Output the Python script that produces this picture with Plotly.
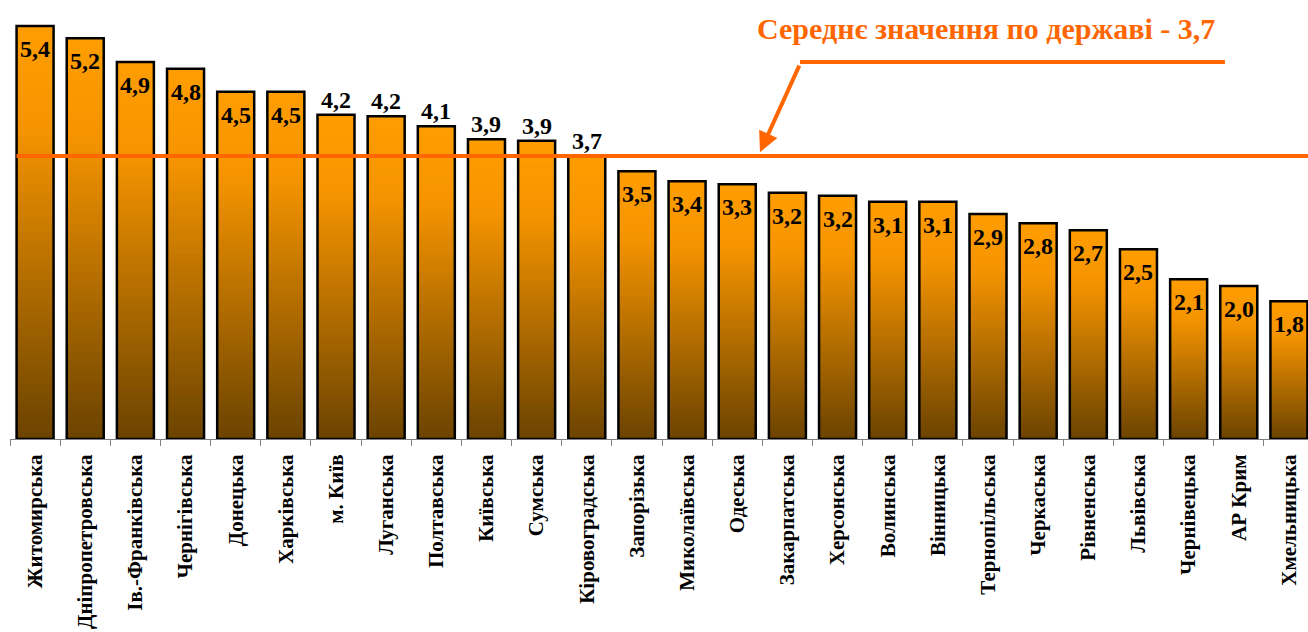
import plotly.graph_objects as go

# ── Data ─────────────────────────────────────────────────────────────────────

REGIONS = [
    "Житомирська", "Дніпропетровська", "Ів.-Франківська", "Чернігівська",
    "Донецька", "Харківська", "м. Київ", "Луганська", "Полтавська",
    "Київська", "Сумська", "Кіровоградська", "Запорізька", "Миколаївська",
    "Одеська", "Закарпатська", "Херсонська", "Волинська", "Вінницька",
    "Тернопільська", "Черкаська", "Рівненська", "Львівська", "Чернівецька",
    "АР Крим", "Хмельницька",
]
VALUES = [
    5.40, 5.24, 4.93, 4.84, 4.54, 4.54, 4.24, 4.22, 4.09, 3.92, 3.90, 3.70,
    3.50, 3.37, 3.33, 3.22, 3.18, 3.10, 3.10, 2.94, 2.82, 2.73, 2.48, 2.09,
    2.00, 1.80,
]
LABELS = [
    "5,4", "5,2", "4,9", "4,8", "4,5", "4,5", "4,2", "4,2", "4,1", "3,9",
    "3,9", "3,7", "3,5", "3,4", "3,3", "3,2", "3,2", "3,1", "3,1", "2,9",
    "2,8", "2,7", "2,5", "2,1", "2,0", "1,8",
]
# labels drawn above the bar instead of inside
OUTSIDE = {"м. Київ", "Луганська", "Полтавська", "Київська", "Сумська", "Кіровоградська"}
AVERAGE = 3.7
AVERAGE_TEXT = "Середнє значення по державі - 3,7"

# ── Style ────────────────────────────────────────────────────────────────────

ORANGE_LINE = "#FF6600"
FONT = "Liberation Serif, Times New Roman, serif"
N_STEPS = 60
STOPS = [(0.0, (107, 67, 0)), (0.75, (245, 148, 0)), (1.0, (255, 157, 0))]


def grad_color(f):
    for (f0, c0), (f1, c1) in zip(STOPS, STOPS[1:]):
        if f <= f1:
            t = (f - f0) / (f1 - f0)
            return "rgb(%d,%d,%d)" % tuple(round(a + (b - a) * t) for a, b in zip(c0, c1))
    return "rgb(%d,%d,%d)" % STOPS[-1][1]


fig = go.Figure()

# gradient fill: each step covers bar from its fraction up to the top
for k in range(N_STEPS):
    f = k / N_STEPS
    fig.add_trace(
        go.Bar(
            x=REGIONS,
            y=[v * (1 - f) for v in VALUES],
            base=[v * f for v in VALUES],
            marker_color=grad_color(f + 0.5 / N_STEPS),
            marker_line_width=0,
            hoverinfo="skip",
            showlegend=False,
        )
    )

# outline
fig.add_trace(
    go.Bar(
        x=REGIONS,
        y=VALUES,
        marker=dict(color="rgba(0,0,0,0)", line=dict(color="black", width=2.5)),
        hovertemplate="%{x}: %{y:.1f}<extra></extra>",
        showlegend=False,
    )
)

# value labels
for name, v, lab in zip(REGIONS, VALUES, LABELS):
    out = name in OUTSIDE
    fig.add_annotation(
        x=name, y=v, text=f"<b>{lab}</b>", showarrow=False,
        yanchor="bottom" if out else "top",
        yshift=0 if out else -8,
        font=dict(family=FONT, size=24, color="black"),
    )

# average line
fig.add_shape(
    type="line", xref="x", yref="y", x0=-0.37, x1=26, y0=AVERAGE, y1=AVERAGE,
    line=dict(color=ORANGE_LINE, width=4), layer="above",
)
# callout
fig.add_shape(
    type="line", xref="paper", yref="paper", x0=0.6086, x1=0.936, y0=0.8588, y1=0.8588,
    line=dict(color=ORANGE_LINE, width=4),
)
fig.add_annotation(
    xref="paper", yref="y", x=0.5778, y=AVERAGE + 0.05, ax=40, ay=-88,
    text="", showarrow=True, arrowhead=2, arrowsize=1, arrowwidth=4,
    arrowcolor=ORANGE_LINE, standoff=0,
)
fig.add_annotation(
    xref="paper", yref="paper", x=0.752, y=0.936, xanchor="center", yanchor="middle",
    text=f"<b>{AVERAGE_TEXT}</b>", showarrow=False,
    font=dict(family=FONT, size=30, color=ORANGE_LINE),
)

fig.update_layout(
    width=1308, height=632,
    paper_bgcolor="white", plot_bgcolor="white",
    margin=dict(l=10, r=0, t=0, b=193, autoexpand=False),
    barmode="overlay", bargap=0.262,
    showlegend=False,
)
fig.update_xaxes(
    range=[-0.5, 25.38], showgrid=False, showline=True, linecolor="#808080",
    linewidth=1, ticks="outside", ticklen=6, tickcolor="#808080",
    tickson="boundaries", tickangle=-90, ticklabelstandoff=6,
    tickfont=dict(family=FONT, size=21, color="black", weight="bold"),
)
fig.update_yaxes(range=[0, 5.739], visible=False)

fig.write_html(
    "out.html",
    config={"displayModeBar": False},
    post_script="document.body.style.margin='0';document.body.style.overflow='hidden';",
)
